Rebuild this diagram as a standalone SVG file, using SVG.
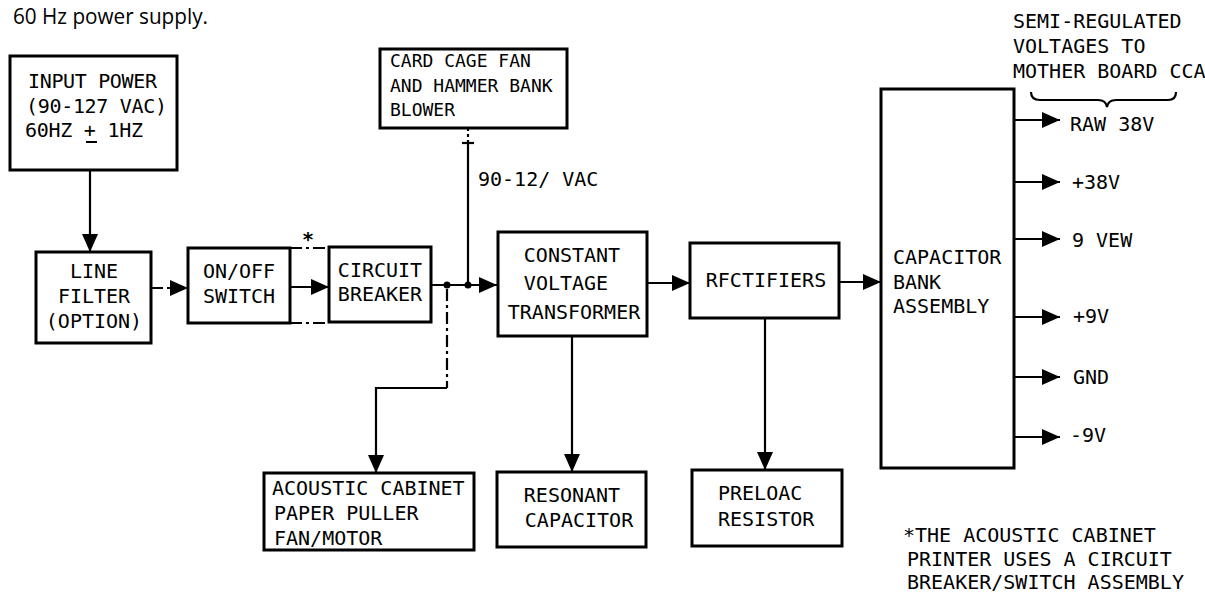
<svg xmlns="http://www.w3.org/2000/svg" width="1205" height="592" viewBox="0 0 1205 592">
<style>
.box{fill:#fff;stroke:#000;stroke-width:3}
.t{font-family:"DejaVu Sans Mono","Liberation Mono",monospace;font-size:20px;fill:#000}
.s{font-size:18px}
.c{text-anchor:middle}
.ln{fill:none;stroke:#000;stroke-width:2.2}
.dd{fill:none;stroke:#000;stroke-width:2.2;stroke-dasharray:12 4 3 4}
</style>
<defs>
<marker id="arr" viewBox="0 0 18 16" refX="18" refY="8" markerWidth="18" markerHeight="16" markerUnits="userSpaceOnUse" orient="auto">
<path d="M0,0 L18,8 L0,16 z" fill="#000"/>
</marker>
</defs>
<rect width="1205" height="592" fill="#fff"/>
<text x="13" y="24" font-family="'Open Sans','Noto Sans',sans-serif" font-size="22" textLength="195" lengthAdjust="spacingAndGlyphs">60 Hz power supply.</text>

<g id="input-power">
<rect class="box" x="10" y="56" width="167" height="114"/>
<text class="t" x="28" y="88" textLength="129">INPUT POWER</text>
<text class="t" x="26" y="113" textLength="141">(90-127 VAC)</text>
<text class="t" x="25" y="137" textLength="118">60HZ + 1HZ</text>
<line x1="86" y1="142" x2="97" y2="142" stroke="#000" stroke-width="2"/>
</g>
<g id="line-filter">
<rect class="box" x="36" y="252" width="115" height="91"/>
<text class="t c" x="94" y="278">LINE</text>
<text class="t c" x="94" y="303">FILTER</text>
<text class="t c" x="94" y="328">(OPTION)</text>
</g>
<g id="on-off-switch">
<rect class="box" x="188" y="248" width="102" height="75"/>
<text class="t c" x="239" y="278">ON/OFF</text>
<text class="t c" x="239" y="303">SWITCH</text>
</g>
<g id="circuit-breaker">
<rect class="box" x="329" y="247" width="102" height="75"/>
<text class="t c" x="380" y="277">CIRCUIT</text>
<text class="t c" x="380" y="301">BREAKER</text>
</g>
<g id="card-cage-fan">
<rect class="box" x="380" y="49" width="187" height="79"/>
<text class="t s" x="390" y="67">CARD CAGE FAN</text>
<text class="t s" x="390" y="92">AND HAMMER BANK</text>
<text class="t s" x="390" y="116">BLOWER</text>
</g>
<g id="constant-voltage-transformer">
<rect class="box" x="498" y="232" width="149" height="104"/>
<text class="t c" x="572" y="262">CONSTANT</text>
<text class="t c" x="566" y="290">VOLTAGE</text>
<text class="t c" x="574" y="319">TRANSFORMER</text>
</g>
<g id="rectifiers">
<rect class="box" x="690" y="243" width="149" height="75"/>
<text class="t c" x="766" y="287">RFCTIFIERS</text>
</g>
<g id="capacitor-bank">
<rect class="box" x="881" y="89" width="133" height="379"/>
<text class="t" x="893" y="264">CAPACITOR</text>
<text class="t" x="893" y="289">BANK</text>
<text class="t" x="893" y="313">ASSEMBLY</text>
</g>
<g id="acoustic-cabinet">
<rect class="box" x="264" y="473" width="210" height="77"/>
<text class="t" x="272" y="495">ACOUSTIC CABINET</text>
<text class="t" x="274" y="520">PAPER PULLER</text>
<text class="t" x="274" y="545">FAN/MOTOR</text>
</g>
<g id="resonant-capacitor">
<rect class="box" x="497" y="472" width="149" height="75"/>
<text class="t c" x="572" y="502">RESONANT</text>
<text class="t c" x="579" y="527">CAPACITOR</text>
</g>
<g id="preload-resistor">
<rect class="box" x="692" y="470" width="150" height="76"/>
<text class="t" x="718" y="500">PRELOAC</text>
<text class="t" x="718" y="526">RESISTOR</text>
</g>

<g id="connectors">
<path class="ln" d="M90,170 V252" marker-end="url(#arr)"/>
<path class="dd" d="M151,288 H188" marker-end="url(#arr)"/>
<path class="ln" d="M290,287 H329" marker-end="url(#arr)"/>
<path class="dd" d="M290,248 H329"/>
<path class="dd" d="M290,323 H329"/>
<path class="ln" d="M431,285 H497" marker-end="url(#arr)"/>
<circle cx="447" cy="285" r="3.5"/>
<circle cx="468" cy="285" r="3.5"/>
<path class="ln" d="M468,285 V143"/>
<path class="ln" d="M462,143 H474"/>
<path class="ln" d="M468,143 V128" stroke-dasharray="3 3"/>
<path class="dd" d="M447,289 V388" stroke-dasharray="18 4 3 4"/>
<path class="ln" d="M447,388 H376 V473" marker-end="url(#arr)"/>
<path class="ln" d="M647,283 H690" marker-end="url(#arr)"/>
<path class="ln" d="M839,282 H881" marker-end="url(#arr)"/>
<path class="ln" d="M572,336 V472" marker-end="url(#arr)"/>
<path class="ln" d="M765,318 V470" marker-end="url(#arr)"/>
<path class="ln" d="M1014,120 H1060" marker-end="url(#arr)"/>
<path class="ln" d="M1014,182 H1060" marker-end="url(#arr)"/>
<path class="ln" d="M1014,239 H1060" marker-end="url(#arr)"/>
<path class="ln" d="M1014,317 H1060" marker-end="url(#arr)"/>
<path class="ln" d="M1014,377 H1060" marker-end="url(#arr)"/>
<path class="ln" d="M1014,437 H1060" marker-end="url(#arr)"/>
<path class="ln" d="M1031,92 Q1031,100 1040,100 L1098,100 Q1106,100 1107,107 Q1108,100 1116,100 L1168,100 Q1176,100 1176,92"/>
</g>

<g id="labels">
<text class="t" x="308" y="246" text-anchor="middle" font-weight="bold">*</text>
<text class="t" x="478" y="186">90-12/ VAC</text>
<text class="t" x="1070" y="131">RAW 38V</text>
<text class="t" x="1072" y="189">+38V</text>
<text class="t" x="1072" y="247">9 VEW</text>
<text class="t" x="1073" y="323">+9V</text>
<text class="t" x="1073" y="384">GND</text>
<text class="t" x="1070" y="442">-9V</text>
<text class="t" x="1013" y="28">SEMI-REGULATED</text>
<text class="t" x="1013" y="53">VOLTAGES TO</text>
<text class="t" x="1013" y="78">MOTHER BOARD CCA</text>
<text class="t" x="903" y="542">*THE ACOUSTIC CABINET</text>
<text class="t" x="907" y="566">PRINTER USES A CIRCUIT</text>
<text class="t" x="907" y="589">BREAKER/SWITCH ASSEMBLY</text>
</g>
</svg>
